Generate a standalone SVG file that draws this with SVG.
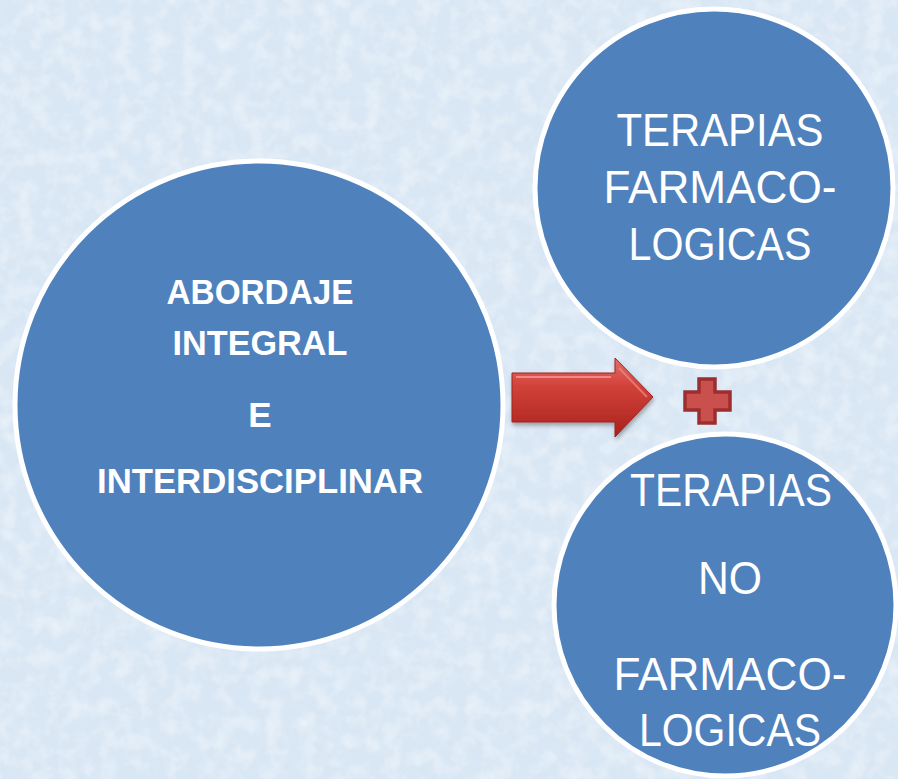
<svg xmlns="http://www.w3.org/2000/svg" width="898" height="779" viewBox="0 0 898 779">
<defs>
<style>
.node circle{fill:#4f81bd;stroke:#fff;stroke-width:5}
.bold{font-family:"Liberation Sans",Arial,sans-serif;font-weight:bold;font-size:35px;fill:#fff;text-anchor:middle}
.reg{font-family:"Liberation Sans",Arial,sans-serif;font-size:47px;fill:#fff;text-anchor:middle}
</style>
<filter id="tex" x="0" y="0" width="100%" height="100%">
<feTurbulence type="fractalNoise" baseFrequency="0.06" numOctaves="3" seed="4" result="n"/>
<feColorMatrix in="n" type="matrix" values="0 0 0 0 1  0 0 0 0 1  0 0 0 0 1  0 0 0 1.4 -0.55"/>
</filter>
<linearGradient id="arrowG" x1="0" y1="0" x2="0" y2="1">
<stop offset="0" stop-color="#e2716a"/>
<stop offset="0.35" stop-color="#d2423a"/>
<stop offset="1" stop-color="#a8221c"/>
</linearGradient>
<filter id="sh" x="-20%" y="-20%" width="140%" height="150%">
<feDropShadow dx="1" dy="3" stdDeviation="2" flood-color="#000" flood-opacity="0.3"/>
</filter>
</defs>
<rect width="898" height="779" fill="#d9e7f4"/>
<rect width="898" height="779" filter="url(#tex)" opacity="0.6"/>

<g id="connectors">
<g id="arrow" filter="url(#sh)">
<path d="M512,373 L615,373 L615,358 L653,397 L615,437 L615,422 L512,422 Z" fill="url(#arrowG)" stroke="#9e2420" stroke-width="1"/>
<path d="M516,377 L611,377" stroke="#f08a84" stroke-width="2" fill="none"/>
<path d="M619,368 L647,397" stroke="#f08a84" stroke-width="2" fill="none" opacity="0.7"/>
</g>
</g>

<g id="plus">
<path d="M699,379 H715 V392 H730 V410 H715 V423 H699 V410 H685 V392 H699 Z" fill="#c9504d" stroke="#9b2f2f" stroke-width="3.5" stroke-linejoin="miter"/>
</g>

<g id="node-abordaje" class="node">
<circle cx="259" cy="405" r="244"/>
<text class="bold" x="260" y="304" textLength="187" lengthAdjust="spacingAndGlyphs">ABORDAJE</text>
<text class="bold" x="260" y="355" textLength="175" lengthAdjust="spacingAndGlyphs">INTEGRAL</text>
<text class="bold" x="260" y="427">E</text>
<text class="bold" x="260" y="493" textLength="326" lengthAdjust="spacingAndGlyphs">INTERDISCIPLINAR</text>
</g>

<g id="node-farmaco" class="node">
<circle cx="714" cy="188" r="179"/>
<text class="reg" x="720" y="146" textLength="207" lengthAdjust="spacingAndGlyphs">TERAPIAS</text>
<text class="reg" x="720" y="203" textLength="233" lengthAdjust="spacingAndGlyphs">FARMACO-</text>
<text class="reg" x="720" y="260" textLength="183" lengthAdjust="spacingAndGlyphs">LOGICAS</text>
</g>

<g id="node-nofarmaco" class="node">
<circle cx="725" cy="605" r="171"/>
<text class="reg" x="731" y="506" textLength="202" lengthAdjust="spacingAndGlyphs">TERAPIAS</text>
<text class="reg" x="730" y="594" textLength="64" lengthAdjust="spacingAndGlyphs">NO</text>
<text class="reg" x="730" y="690" textLength="233" lengthAdjust="spacingAndGlyphs">FARMACO-</text>
<text class="reg" x="730" y="746" textLength="182" lengthAdjust="spacingAndGlyphs">LOGICAS</text>
</g>
</svg>
